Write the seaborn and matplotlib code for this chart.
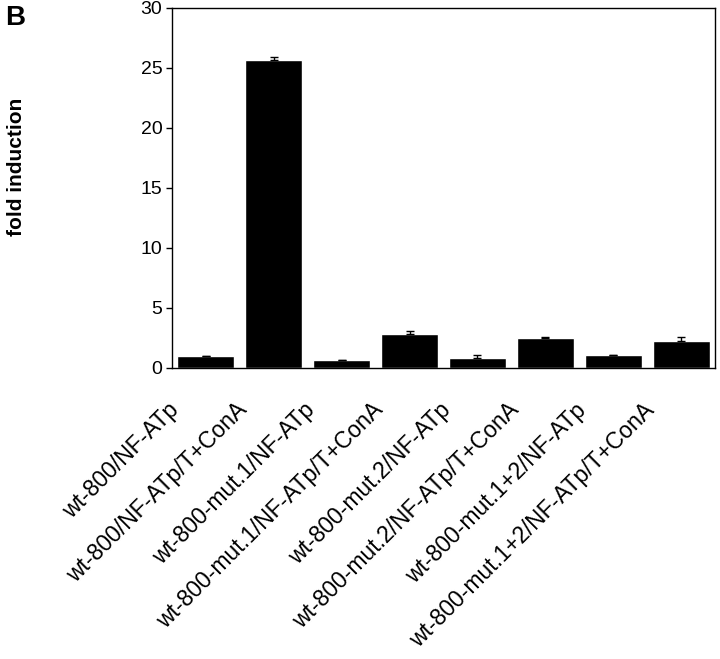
import matplotlib
matplotlib.use("Agg")
import matplotlib.pyplot as plt
import matplotlib.transforms as mtransforms
import seaborn as sns
import pandas as pd

categories = [
    "wt-800/NF-ATp",
    "wt-800/NF-ATp/T+ConA",
    "wt-800-mut.1/NF-ATp",
    "wt-800-mut.1/NF-ATp/T+ConA",
    "wt-800-mut.2/NF-ATp",
    "wt-800-mut.2/NF-ATp/T+ConA",
    "wt-800-mut.1+2/NF-ATp",
    "wt-800-mut.1+2/NF-ATp/T+ConA",
]
values = [1.0, 25.65, 0.65, 2.85, 0.85, 2.5, 1.12, 2.28]
errors = [0.0, 0.3, 0.0, 0.22, 0.2, 0.1, 0.0, 0.27]
yticks = [0, 5, 10, 15, 20, 25, 30]

sns.set_style("ticks")
plt.rcParams["font.family"] = ["Liberation Sans", "DejaVu Sans"]
plt.rcParams["text.color"] = "black"
plt.rcParams["axes.labelcolor"] = "black"
plt.rcParams["xtick.color"] = "black"
plt.rcParams["ytick.color"] = "black"

df = pd.DataFrame({"construct": categories, "fold": values, "err": errors})

fig = plt.figure(figsize=(7.2, 6.59), dpi=100)
ax = fig.add_axes([172 / 720, 291 / 659, 543 / 720, 360 / 659])

sns.barplot(data=df, x="construct", y="fold", order=categories, color="black",
            width=0.84, errorbar=None, ax=ax, saturation=1)
ax.errorbar(x=list(range(len(categories))), y=df["fold"], yerr=[[0] * len(errors), df["err"]],
            fmt="none", ecolor="black", elinewidth=1.0, capsize=3, capthick=1.0)

ax.set_xlim(-0.5, len(categories) - 0.5)
ax.set_ylim(0, 30)
ax.set_yticks(yticks)
ax.set_yticklabels([str(t) for t in yticks], fontsize=14)
ax.tick_params(axis="y", direction="out", length=4, width=1, pad=3, colors="black")
ax.tick_params(axis="x", length=0, pad=22)

ax.set_xticks(range(len(categories)))
ax.set_xticklabels(categories, rotation=45, ha="right", fontsize=16.5)
offset = mtransforms.ScaledTranslation(-22 / 100, 0, fig.dpi_scale_trans)
for lab in ax.get_xticklabels():
    lab.set_transform(lab.get_transform() + offset)

ax.set_xlabel("")
ax.set_ylabel("fold induction", fontsize=15, fontweight="bold")
ax.yaxis.set_label_coords(-0.269, 0.558)

for s in ax.spines.values():
    s.set_visible(True)
    s.set_linewidth(1.0)
    s.set_color("black")

fig.text(5 / 720, 1 - 5 / 659, "B", fontsize=20, fontweight="bold", ha="left", va="top")

fig.savefig("out.png", dpi=100)
